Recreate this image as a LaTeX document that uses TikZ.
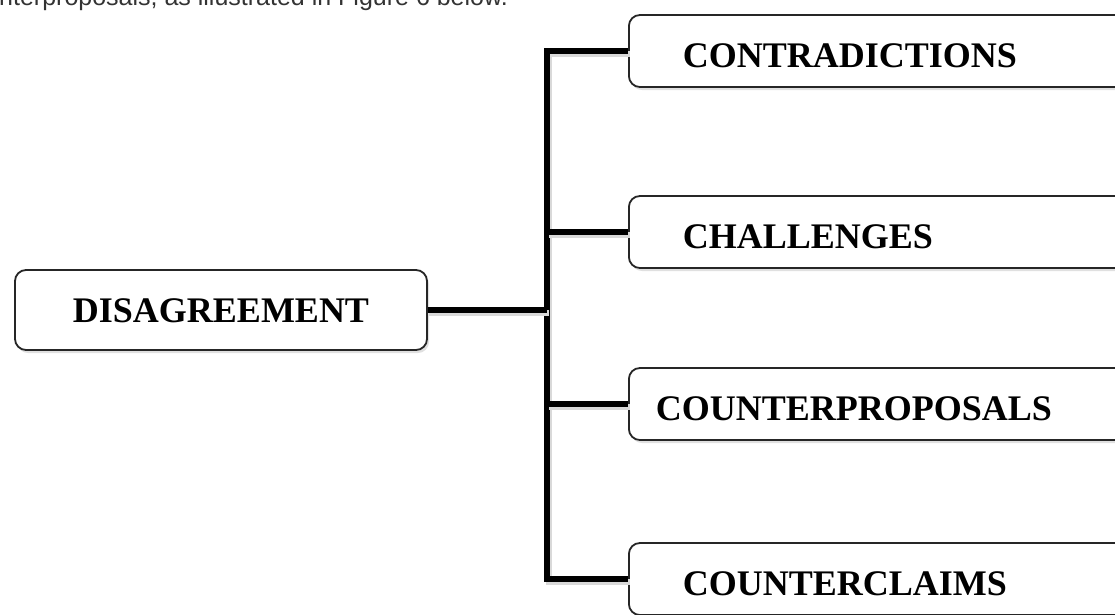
\documentclass[tikz,border=0pt]{standalone}
\usepackage{fontspec}
\setmainfont{Liberation Serif}
\newfontfamily\introfont{Liberation Sans}
\usetikzlibrary{shadows}

\begin{document}
\begin{tikzpicture}[
    x=1pt, y=1pt,
    box/.style={draw=black!85, line width=1.8pt, rounded corners=11pt, fill=white,
      drop shadow={shadow xshift=2pt, shadow yshift=-3pt, opacity=0.3, fill=black!40},
      font=\bfseries\fontsize{36}{40}\selectfont, text depth=0pt},
    leaf/.style={box, anchor=west, minimum height=72pt, text height=33pt,
      text width=440pt, inner xsep=54pt, align=left},
    link/.style={line width=5.5pt,
      preaction={draw=black!15, line width=6pt, transform canvas={shift={(1.5pt,-2.5pt)}}}}
  ]
  \useasboundingbox (0,0) rectangle (1115,-614);
  \clip (0,0) rectangle (1115,-614);
  % line of text above the figure
  \node[anchor=base west, inner sep=0pt, text=black!80,
    font=\introfont\fontsize{25}{30}\selectfont] (intro) at (-1,-5)
    {nterproposals, as illustrated in Figure 6 below.};
  % root
  \node[box, minimum width=412pt, minimum height=80pt, text height=24pt] (dis) at (221,-310) {DISAGREEMENT};
  % branches
  \node[leaf] (contra) at (628,-51) {CONTRADICTIONS};
  \node[leaf] (chall) at (628,-232) {CHALLENGES};
  \node[leaf, inner xsep=27pt, text width=494pt] (cprop) at (628,-404) {COUNTERPROPOSALS};
  \node[leaf] (cclaim) at (628,-579) {COUNTERCLAIMS};
  % connectors
  \coordinate (spine) at (547,0);
  \draw[link] (contra.west) -- (contra.west -| spine) |- (cclaim.west);
  \draw[link] (dis.east) -- (dis.east -| spine);
  \draw[link] (chall.west -| spine) -- (chall.west);
  \draw[link] (cprop.west -| spine) -- (cprop.west);
\end{tikzpicture}
\end{document}
